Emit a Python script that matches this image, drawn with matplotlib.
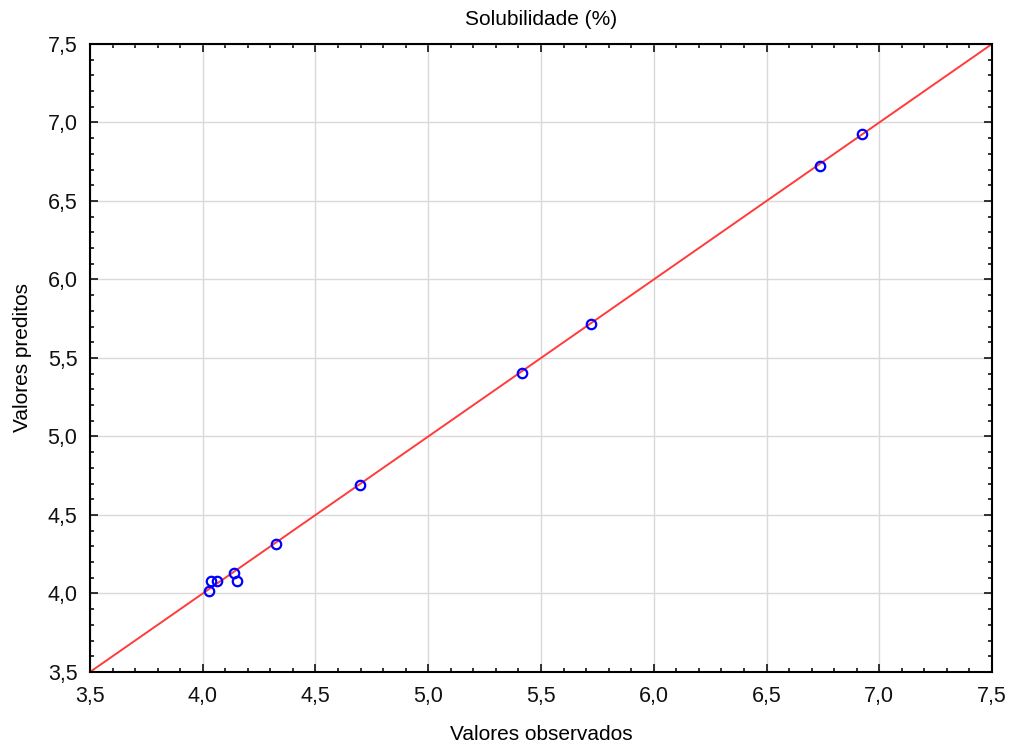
import matplotlib.pyplot as plt
import numpy as np
from matplotlib.ticker import MultipleLocator, FuncFormatter

plt.rcParams['font.family'] = ['Liberation Sans', 'DejaVu Sans']

# observed vs predicted solubility (%)
observados = [4.028, 4.037, 4.063, 4.139, 4.152, 4.325, 4.697, 5.416, 5.722, 6.737, 6.923]
preditos = [4.016, 4.080, 4.080, 4.131, 4.080, 4.315, 4.691, 5.404, 5.717, 6.723, 6.927]

lim = (3.5, 7.5)

fig = plt.figure(figsize=(10.13, 7.49), dpi=100)
ax = fig.add_axes([0.0888, 0.1028, 0.8905, 0.8385])

ax.grid(True, color='#d9d9d9', linewidth=1.0, zorder=0)
ax.plot(lim, lim, color='#ff3b3b', linewidth=1.4, zorder=2)
ax.plot(observados, preditos, linestyle='none', marker='o', markersize=6.8,
        markerfacecolor='none', markeredgecolor='#0000ff', markeredgewidth=1.6, zorder=3)

ax.set_xlim(lim)
ax.set_ylim(lim)
ax.xaxis.set_major_locator(MultipleLocator(0.5))
ax.yaxis.set_major_locator(MultipleLocator(0.5))
ax.xaxis.set_minor_locator(MultipleLocator(0.1))
ax.yaxis.set_minor_locator(MultipleLocator(0.1))
comma = FuncFormatter(lambda v, p: f'{v:.1f}'.replace('.', ','))
ax.xaxis.set_major_formatter(comma)
ax.yaxis.set_major_formatter(comma)

ax.tick_params(which='both', direction='in', top=True, right=True,
               labelsize=15.5, colors='#111111', width=1.2)
ax.tick_params(which='major', length=6)
ax.tick_params(axis='x', which='major', pad=10)
ax.tick_params(axis='y', which='major', pad=9)
ax.tick_params(which='minor', length=3)
for s in ax.spines.values():
    s.set_linewidth(1.5)

ax.set_title('Solubilidade (%)', fontsize=15, pad=14)
ax.set_xlabel('Valores observados', fontsize=15, labelpad=13)
ax.set_ylabel('Valores preditos', fontsize=15, labelpad=11)

fig.savefig('out.png', dpi=100)
